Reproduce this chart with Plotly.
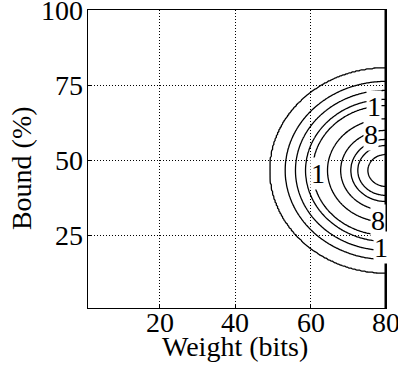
import numpy as np
import plotly.graph_objects as go

# Contour geometry
center_x = 80.0
center_y = 46.7
# left-most x extent (at center_y) of each contour line, outer -> inner
contour_left_x = [49.3, 53.3, 56.0, 58.7, 60.5, 64.5, 68.0, 70.7, 72.5, 75.2, 77.9]
y_semi_outer = 34.0
levels = list(range(1, len(contour_left_x) + 1))

label_text = ["1", "8", "1", "8", "1"]
label_x = [76.8, 76.0, 61.9, 77.9, 78.7]
label_y = [68.0, 58.5, 45.7, 30.0, 21.0]

x_ticks = [20, 40, 60, 80]
y_ticks = [25, 50, 75, 100]

xs = np.linspace(1, 80, 240)
ys = np.linspace(1, 100, 300)
X, Y = np.meshgrid(xs, ys)
rx = center_x - contour_left_x[0]
D = np.sqrt(((center_x - X) / rx) ** 2 + ((Y - center_y) / y_semi_outer) ** 2)
radii = [(center_x - v) / rx for v in contour_left_x]  # descending
xp = radii[::-1] + [3.0]
fp = levels[::-1] + [0]
Z = np.interp(D, xp, fp)

font = dict(family="Liberation Serif", size=28, color="black")

fig = go.Figure()
fig.add_trace(go.Contour(
    x=xs, y=ys, z=Z,
    contours=dict(coloring="lines", start=levels[0], end=levels[-1], size=1),
    line=dict(color="black", width=1.3),
    colorscale=[[0, "black"], [1, "black"]],
    showscale=False, hoverinfo="skip",
))

for t, x, y in zip(label_text, label_x, label_y):
    fig.add_annotation(x=x, y=y, text=t, showarrow=False, bgcolor="white",
                       font=font, borderpad=0)

fig.add_shape(type="line", x0=80, x1=80, y0=1, y1=100, xref="x", yref="y",
              line=dict(color="black", width=3))

# tick labels
for v in x_ticks:
    fig.add_annotation(text=str(v), x=v, xref="x", y=0.006, yref="paper", showarrow=False,
                       font=font, xanchor="center", yanchor="top", borderpad=0)
for v in y_ticks:
    fig.add_annotation(text=str(v), y=v, yref="y", x=-0.012, xref="paper", showarrow=False,
                       font=font, xanchor="right", yanchor="middle", borderpad=0)

fig.add_annotation(text="Weight (bits)", xref="paper", yref="paper", x=0.493, y=-0.128,
                   showarrow=False, font=font, xanchor="center", yanchor="middle")
fig.add_annotation(text="Bound (%)", xref="paper", yref="paper", x=-0.221, y=0.47,
                   showarrow=False, font=font, textangle=-90, xanchor="center", yanchor="middle")

axis_common = dict(showgrid=True, gridcolor="black", griddash="1px,2px", gridwidth=1,
                   showline=True, linecolor="black", linewidth=1, mirror=True,
                   ticks="inside", ticklen=4, tickcolor="black", zeroline=False,
                   showticklabels=False, automargin=False)
fig.update_xaxes(range=[1, 80], tickvals=x_ticks, **axis_common)
fig.update_yaxes(range=[1, 100], tickvals=y_ticks, **axis_common)

fig.update_layout(width=398, height=369, margin=dict(l=88, r=12, t=10, b=61),
                  plot_bgcolor="white", paper_bgcolor="white", showlegend=False)

fig.write_html("out.html", config={"displayModeBar": False},
               post_script="document.body.style.margin='0';document.body.style.overflow='hidden';")
